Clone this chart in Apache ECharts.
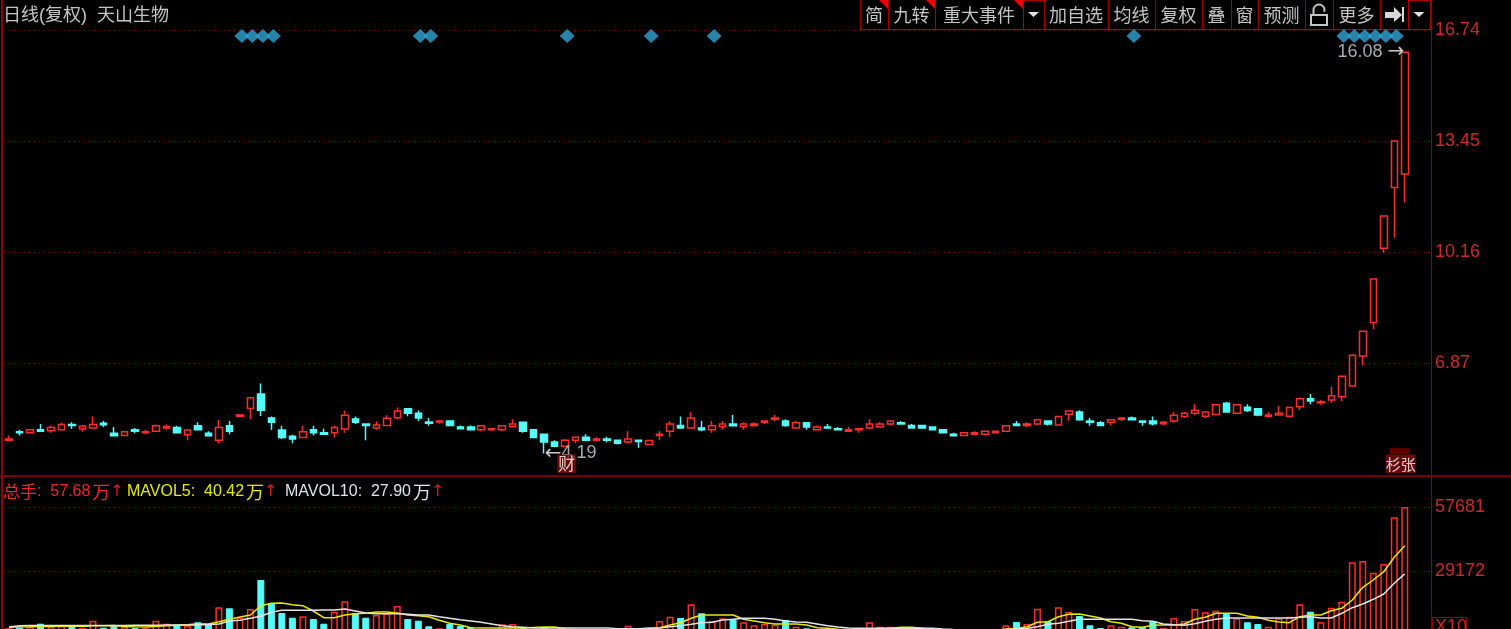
<!DOCTYPE html>
<html>
<head>
<meta charset="utf-8">
<title>日线(复权) 天山生物</title>
<style>
    html, body { margin: 0; padding: 0; background: #000; overflow: hidden; }
    #main { width: 1511px; height: 629px; }
</style>
<script src="https://cdn.jsdelivr.net/npm/echarts@6/dist/echarts.min.js"></script>
</head>
<body>
<div id="main"></div>
<script>
// K线数据, 从图上读的
const opens = [
    4.58,4.83,4.80,4.89,4.86,4.89,5.05,4.91,4.94,5.08,
    4.79,4.72,4.89,4.80,4.85,4.94,4.96,4.74,5.01,4.79,
    4.58,5.01,5.29,5.52,5.95,5.24,4.88,4.70,4.66,4.89,
    4.80,4.80,4.91,5.21,5.06,4.94,5.02,5.25,5.51,5.38,
    5.12,5.12,5.15,4.97,4.97,4.89,4.89,4.89,4.98,5.11,
    4.89,4.76,4.53,4.40,4.58,4.67,4.58,4.62,4.58,4.53,
    4.58,4.45,4.72,4.85,5.02,4.94,4.94,4.89,4.98,5.06,
    4.98,5.02,5.11,5.20,5.15,4.94,5.10,4.89,4.97,4.92,
    4.85,4.89,4.94,4.97,5.06,5.10,5.02,5.02,4.97,4.89,
    4.76,4.72,4.76,4.76,4.80,4.85,5.06,5.02,5.06,5.15,
    5.03,5.35,5.42,5.15,5.10,5.11,5.20,5.24,5.15,5.15,
    5.07,5.15,5.28,5.38,5.29,5.34,5.68,5.38,5.56,5.51,
    5.29,5.33,5.29,5.57,5.81,5.69,5.77,5.87,6.19,7.08,
    8.07,10.27,12.07,12.47
]
const closes = [
    4.62,4.80,4.89,4.85,4.96,5.05,5.02,5.00,5.05,5.04,
    4.71,4.83,4.85,4.83,5.01,4.98,4.80,4.88,4.89,4.71,
    4.96,4.85,5.33,5.84,5.47,5.11,4.66,4.62,4.83,4.80,
    4.76,4.96,5.32,5.11,5.02,5.03,5.23,5.45,5.38,5.24,
    5.08,5.15,5.02,4.92,4.89,5.01,4.92,5.01,5.06,4.85,
    4.66,4.53,4.40,4.58,4.67,4.58,4.62,4.58,4.49,4.62,
    4.54,4.57,4.76,5.06,4.94,5.24,4.89,5.01,5.06,5.01,
    5.06,5.06,5.15,5.24,5.02,5.10,4.97,4.97,4.94,4.89,
    4.89,4.92,5.06,5.06,5.15,5.06,4.94,4.94,4.89,4.80,
    4.71,4.80,4.80,4.85,4.85,5.01,5.02,5.06,5.19,5.06,
    5.28,5.45,5.19,5.11,5.02,5.19,5.24,5.19,5.11,5.07,
    5.11,5.32,5.38,5.47,5.42,5.63,5.42,5.63,5.46,5.33,
    5.33,5.38,5.55,5.81,5.74,5.72,5.90,6.48,7.10,7.81,
    9.36,11.23,13.45,16.08
]
const lows = [
    4.58,4.72,4.80,4.85,4.80,4.89,4.92,4.83,4.92,4.97,
    4.71,4.72,4.79,4.76,4.85,4.89,4.80,4.58,4.89,4.71,
    4.49,4.76,5.29,5.20,5.30,4.89,4.62,4.49,4.66,4.72,
    4.76,4.66,4.80,5.06,4.58,4.89,5.02,5.20,5.29,5.15,
    5.01,5.07,5.02,4.92,4.89,4.85,4.89,4.85,4.98,4.80,
    4.66,4.19,4.40,4.39,4.49,4.58,4.58,4.52,4.45,4.49,
    4.36,4.45,4.58,4.67,4.94,4.94,4.85,4.80,4.89,5.01,
    4.89,4.98,5.06,5.14,4.98,4.94,4.89,4.89,4.94,4.89,
    4.85,4.80,4.94,4.97,5.02,5.06,4.94,4.94,4.89,4.80,
    4.71,4.72,4.76,4.76,4.80,4.85,5.02,4.97,5.06,5.02,
    5.03,5.16,5.16,5.01,5.02,5.02,5.15,5.19,5.01,5.02,
    5.02,5.10,5.24,5.33,5.24,5.34,5.42,5.38,5.42,5.29,
    5.29,5.33,5.29,5.47,5.65,5.63,5.69,5.74,6.19,6.80,
    7.87,10.14,10.58,11.62
]
const highs = [
    4.72,4.89,4.89,5.06,5.01,5.10,5.11,5.01,5.28,5.15,
    4.97,4.86,4.94,4.89,5.05,5.05,5.01,4.88,5.11,4.85,
    5.18,5.15,5.33,5.84,6.26,5.28,5.01,4.74,5.01,5.01,
    4.92,5.01,5.46,5.28,5.06,5.14,5.32,5.55,5.51,5.46,
    5.24,5.15,5.15,5.02,5.02,5.01,4.96,5.01,5.20,5.11,
    4.89,4.76,4.58,4.62,4.67,4.76,4.67,4.68,4.58,4.85,
    4.58,4.57,4.85,5.15,5.28,5.41,5.15,5.15,5.15,5.33,
    5.11,5.11,5.15,5.33,5.20,5.15,5.10,5.02,5.06,4.97,
    4.97,4.92,5.20,5.11,5.15,5.15,5.06,5.02,4.97,4.89,
    4.80,4.80,4.85,4.85,4.85,5.01,5.15,5.11,5.19,5.15,
    5.28,5.45,5.47,5.24,5.15,5.19,5.24,5.28,5.15,5.28,
    5.15,5.42,5.42,5.65,5.42,5.63,5.71,5.63,5.65,5.51,
    5.42,5.60,5.55,5.85,5.95,5.77,6.17,6.48,7.10,7.81,
    9.36,11.23,13.45,16.08
]
// 成交量 (单位 10手), 下面有一截被窗口裁掉了
const volumes = [
    3790,3920,4230,5700,4230,4680,4370,3790,7040,3920,
    4810,4230,3790,3790,7040,5700,5120,4680,6330,5570,
    13010,12560,8370,12250,25170,14790,10470,8370,9000,7800,
    5700,11050,15680,10330,8370,9580,10330,13590,7800,7040,
    4540,3650,5570,4680,4100,3100,2900,5430,5570,3920,
    2900,3920,2900,2800,2600,2500,2400,2500,2700,4810,
    3650,2900,6900,8820,8240,14340,10330,6900,8110,7660,
    6330,4990,5570,5260,7350,4370,3650,2900,2700,2500,
    2600,2800,6330,4370,4370,3000,2800,2500,2400,2300,
    2100,2200,2400,2500,2600,4990,6460,5570,12380,6770,
    13010,10910,9130,4990,3790,4990,4370,4100,4230,6770,
    3920,8240,6900,12250,10780,11490,10020,8110,6330,5570,
    4370,8110,8820,14340,11050,6330,12830,15500,33050,33630,
    28420,32300,53100,57681
]
const mavol5 = [
    4230,4230,4300,4450,4500,4600,4650,4400,4800,4800,
    4900,4500,4300,4250,4500,4800,5000,5200,5700,5600,
    6590,7660,8690,9580,13720,14790,14920,14170,13720,11360,
    8370,8370,9580,10160,10330,10910,10910,10470,9580,9270,
    8820,7220,5880,5120,3920,3790,3790,3790,3790,3790,
    4010,4230,4230,3340,3100,3000,2900,2800,2900,3100,
    3300,3650,3920,5120,6150,8110,9580,9580,9580,9580,
    7660,6900,6150,5570,5570,5570,5120,3920,3650,3200,
    3100,3300,3500,3600,3700,4100,4100,3650,3200,2800,
    2500,2400,2400,2500,2800,3300,3600,4370,6330,6590,
    8820,9890,10020,9130,8240,6590,5880,4370,4100,4990,
    5120,5120,5570,7660,8550,10330,10330,10330,9130,8550,
    7220,6460,6150,8820,9580,9580,11490,12560,16260,21920,
    25170,28870,35280,40420
]
const mavol10 = [
    4230,4800,4850,4850,4850,4850,4850,4850,4850,4850,
    4850,4850,5000,5000,5000,5100,5100,5100,5100,5300,
    5570,6900,7220,8110,9000,10780,11670,11670,11670,11670,
    11800,11800,12250,11360,10470,10160,10160,10160,9890,9580,
    9580,8820,8110,7480,6900,6330,5570,4810,4370,4100,
    3790,3790,3790,3790,3790,3790,3790,3790,3500,3400,
    3500,3700,3800,4370,4810,5430,6150,6330,7350,7660,
    8110,8110,8110,7660,6900,6460,6330,5570,4810,4230,
    3790,3650,3650,3650,3650,3650,3650,3650,3650,3300,
    3100,3000,2900,2900,2900,3100,3340,3650,4370,5430,
    5880,6770,7660,7660,7660,7660,7660,7660,7040,6770,
    5570,5260,4990,5700,6770,7660,8240,8240,8240,8240,
    8240,8240,8240,8550,8820,8240,8240,10330,12830,14480,
    16570,18930,23700,27900
]
// 坐标轴刻度
const priceTicks = [6.87, 10.16, 13.45, 16.74]
const volumeTicks = [29172, 57681]
const priceMin = 3.52
const priceMax = 16.74
const volumeMax = 71490
// 顶部蓝色菱形所在的K线序号
const diamondIdx = [22, 23, 24, 25, 39, 40, 53, 61, 67, 107, 127, 128, 129, 130, 131, 132]
const diamondPrice = 16.56
// 底部的小标记
const badgeIdx = [53, 133]
const badgeText = ['财', '杉张']
const badgePrice = 3.88
// 最高最低价标注
const highIdx = 133
const highPrice = 16.08
const lowIdx = 51
const lowPrice = 4.19
// 图例文字
const titleText = '日线(复权)  天山生物'
const volHeader = ['57.68', '40.42', '27.90']

// 右边多留两根K线的空位
const categories = []
for (let i = 0; i < opens.length + 2; i++) {
    categories.push(String(i))
}

const RED = '#ff2c2c'
const CYAN = '#54fcfc'
const FRAME = '#8c0000'
const LABEL = '#c82a2a'
const GREY = '#c4c4c4'
const FONT = '"Liberation Sans", "Noto Sans CJK SC", sans-serif'
const CJK = '"Noto Sans CJK SC", sans-serif'
const ARROW = '"DejaVu Sans", sans-serif'

// 工具栏用graphic画
function buildToolbar() {
    const cells = [
        [860, 888, '简', 1], [888, 935, '九转', 1], [935, 1023, '重大事件', 1], [1023, 1044, '', 0],
        [1044, 1108, '加自选', 0], [1108, 1155, '均线', 0], [1155, 1202, '复权', 0], [1202, 1231, '叠', 0],
        [1231, 1258, '窗', 0], [1258, 1305, '预测', 0], [1305, 1333, '', 0], [1333, 1380, '更多', 0],
        [1380, 1408, '', 0], [1408, 1430, '', 0]
    ]
    const els = []
    cells.forEach((c) => {
        els.push({
            type: 'line', silent: true,
            shape: { x1: c[0] + 0.5, y1: 0, x2: c[0] + 0.5, y2: 29 },
            style: { stroke: '#a00000', lineWidth: 1 }
        })
        if (c[2]) {
            els.push({
                type: 'text', silent: true,
                style: {
                    x: (c[0] + c[1]) / 2, y: 15, text: c[2], fill: GREY,
                    font: '18px ' + CJK, align: 'center', verticalAlign: 'middle'
                }
            })
        }
        if (c[3]) {
            els.push({
                type: 'polygon', silent: true,
                shape: { points: [[c[1] - 9, 0], [c[1], 0], [c[1], 9]] },
                style: { fill: '#f00000' }
            })
        }
    })
    // 底线
    els.push({ type: 'rect', silent: true, shape: { x: 860, y: 29, width: 571, height: 1 }, style: { fill: '#b00000' } })
    // 两个下拉框
    ;[[1023, 1044], [1408, 1430]].forEach((b) => {
        els.push({ type: 'rect', silent: true, shape: { x: b[0] + 0.5, y: 0.5, width: b[1] - b[0], height: 29 }, style: { fill: 'none', stroke: '#b00000', lineWidth: 1 } })
        const m = (b[0] + b[1]) / 2
        els.push({ type: 'polygon', silent: true, shape: { points: [[m - 5.5, 12], [m + 5.5, 12], [m, 17]] }, style: { fill: '#e0e0e0' } })
    })
    // 锁
    els.push({ type: 'rect', silent: true, shape: { x: 1311, y: 15, width: 16, height: 10 }, style: { fill: 'none', stroke: GREY, lineWidth: 2 } })
    els.push({ type: 'arc', silent: true, shape: { cx: 1319, cy: 10, r: 5.5, startAngle: Math.PI, endAngle: Math.PI * 2.1 }, style: { fill: 'none', stroke: GREY, lineWidth: 2 } })
    els.push({ type: 'line', silent: true, shape: { x1: 1313.5, y1: 10, x2: 1313.5, y2: 15 }, style: { stroke: GREY, lineWidth: 2 } })
    // 右移箭头
    els.push({
        type: 'polygon', silent: true,
        shape: { points: [[1385, 12], [1394, 12], [1394, 7], [1402, 15], [1394, 22], [1394, 18], [1385, 18]] },
        style: { fill: '#d8d8d8' }
    })
    els.push({ type: 'rect', silent: true, shape: { x: 1402, y: 7, width: 2, height: 15 }, style: { fill: '#d8d8d8' } })
    return els
}

// 量能图例的一段文字
function headerText(x, name, val, fill) {
    const sep = name === '总手' ? '{c|' + name + '}{t|:  ' + val + '}' : '{t|' + name + ':  ' + val + '}'
    return {
        type: 'text', silent: true,
        style: {
            x: x, y: 492, verticalAlign: 'middle',
            text: sep + '{u|万}{a|↑}',
            rich: {
                c: { fill: fill, font: '17px ' + CJK },
                t: { fill: fill, font: '16px ' + FONT },
                u: { fill: fill, font: '18px ' + CJK, padding: [0, 0, 0, 2] },
                a: { fill: '#e01818', font: '16px ' + ARROW, padding: [0, 0, 0, 0] }
            }
        }
    }
}

function buildFrame() {
    return [
        { type: 'rect', silent: true, shape: { x: 1, y: 0, width: 2, height: 629 }, style: { fill: FRAME } },
        { type: 'rect', silent: true, shape: { x: 0, y: 475, width: 1511, height: 2 }, style: { fill: '#7a0000' } },
        { type: 'rect', silent: true, shape: { x: 1431, y: 0, width: 1, height: 30 }, style: { fill: FRAME } },
        // 涨字标记上面那块暗色
        { type: 'rect', silent: true, shape: { x: 1390, y: 448, width: 19, height: 6 }, style: { fill: '#5c0000' } },
        // X10
        { type: 'rect', silent: true, shape: { x: 1432.5, y: 617.5, width: 34, height: 16 }, style: { fill: 'none', stroke: FRAME, lineWidth: 1 } },
        { type: 'text', silent: true, style: { x: 1435, y: 627, text: 'X10', fill: LABEL, font: '18px ' + FONT, verticalAlign: 'middle' } },
        // 标题
        { type: 'text', silent: true, style: { x: 3, y: 16, text: titleText, fill: GREY, font: '18px ' + FONT, verticalAlign: 'middle' } },
        headerText(3, '总手', volHeader[0], '#e82a2a'),
        headerText(127, 'MAVOL5', volHeader[1], '#e8e800'),
        headerText(285, 'MAVOL10', volHeader[2], '#e0e4e8')
    ]
}

const chartInstance = echarts.init(document.getElementById('main'))

const splitLine = {
    show: true,
    lineStyle: { color: '#a80000', type: [1, 4], width: 1 }
}

const option = {
    animation: false,
    backgroundColor: '#000',
    textStyle: { fontFamily: FONT },
    grid: [
        { left: 3.75, top: 30, width: 1427.25, height: 446, outerBoundsMode: 'none' },
        { left: 3.75, top: 476, width: 1427.25, height: 160.5, outerBoundsMode: 'none' }
    ],
    xAxis: [
        { type: 'category', gridIndex: 0, data: categories, axisLine: { show: false }, axisTick: { show: false }, axisLabel: { show: false }, splitLine: { show: false } },
        { type: 'category', gridIndex: 1, data: categories, axisLine: { show: false }, axisTick: { show: false }, axisLabel: { show: false }, splitLine: { show: false } }
    ],
    yAxis: [
        {
            type: 'value', gridIndex: 0, position: 'right', min: priceMin, max: priceMax,
            axisLine: { show: true, lineStyle: { color: FRAME, width: 1 } },
            axisTick: { show: false, customValues: priceTicks },
            axisLabel: { customValues: priceTicks, color: LABEL, fontSize: 18, margin: 4, padding: [5, 0, 0, 0], formatter: (v) => v.toFixed(2) },
            splitLine: splitLine
        },
        {
            type: 'value', gridIndex: 1, position: 'right', min: 0, max: volumeMax,
            axisLine: { show: true, lineStyle: { color: FRAME, width: 1 } },
            axisTick: { show: false, customValues: volumeTicks },
            axisLabel: { customValues: volumeTicks, color: LABEL, fontSize: 18, margin: 4, padding: [5, 0, 0, 0], formatter: (v) => String(v) },
            splitLine: splitLine
        }
    ],
    series: [
        {
            name: 'K线',
            type: 'candlestick',
            xAxisIndex: 0,
            yAxisIndex: 0,
            barWidth: 7,
            itemStyle: {
                color: '#000',
                color0: CYAN,
                borderColor: RED,
                borderColor0: CYAN,
                borderWidth: 1.5
            },
            data: opens.map((o, i) => [o, closes[i], lows[i], highs[i]]),
            markPoint: {
                symbol: 'rect',
                symbolSize: 1,
                itemStyle: { color: 'transparent' },
                label: {
                    color: '#a8acb0',
                    fontSize: 18,
                    fontFamily: FONT,
                    rich: {
                        v: { color: '#a8acb0', fontSize: 18, fontFamily: FONT },
                        h: { color: '#c8c8c8', fontSize: 20, fontFamily: ARROW }
                    }
                },
                data: [
                    {
                        coord: [highIdx, highPrice],
                        label: { position: 'left', distance: 0, formatter: '{v|' + highPrice.toFixed(2) + ' }{h|→}' }
                    },
                    {
                        coord: [lowIdx, lowPrice],
                        label: { position: 'right', distance: 0, formatter: '{h|←}{v|' + lowPrice.toFixed(2) + '}' }
                    }
                ]
            }
        },
        {
            name: '事件',
            type: 'scatter',
            xAxisIndex: 0,
            yAxisIndex: 0,
            symbol: 'diamond',
            symbolSize: [15, 14],
            symbolOffset: [2, 0],
            itemStyle: { color: '#30a5d5' },
            data: diamondIdx.map((i) => [i, diamondPrice])
        },
        {
            name: '标记',
            type: 'scatter',
            xAxisIndex: 0,
            yAxisIndex: 0,
            z: 8,
            symbolSize: 0,
            label: {
                show: true,
                position: 'inside',
                color: '#fff',
                fontFamily: CJK,
                backgroundColor: '#7d0c0c',
                formatter: (p) => badgeText[p.dataIndex]
            },
            labelLayout: (p) => (p.dataIndex === 1 ? { dx: -4 } : { dx: 1.5 }),
            data: [
                { value: [badgeIdx[0], badgePrice], label: { fontSize: 17, padding: [1, 1, 1, 1] } },
                { value: [badgeIdx[1], badgePrice], label: { fontSize: 15, padding: [2, 0, 2, 0] } }
            ]
        },
        {
            name: '总手',
            type: 'bar',
            xAxisIndex: 1,
            yAxisIndex: 1,
            barWidth: 7,
            data: volumes.map((v, i) => ({
                value: v,
                itemStyle: closes[i] >= opens[i]
                    ? { color: '#000', borderColor: RED, borderWidth: 1.5 }
                    : { color: CYAN, borderColor: CYAN, borderWidth: 1 }
            }))
        },
        {
            name: 'MAVOL5',
            type: 'line',
            xAxisIndex: 1,
            yAxisIndex: 1,
            symbol: 'none',
            z: 4,
            lineStyle: { color: '#e8e800', width: 1.5 },
            data: mavol5
        },
        {
            name: 'MAVOL10',
            type: 'line',
            xAxisIndex: 1,
            yAxisIndex: 1,
            symbol: 'none',
            z: 4,
            lineStyle: { color: '#e4e4e4', width: 1.5 },
            data: mavol10
        }
    ],
    graphic: buildFrame().concat(buildToolbar())
}

chartInstance.setOption(option)
</script>
</body>
</html>
